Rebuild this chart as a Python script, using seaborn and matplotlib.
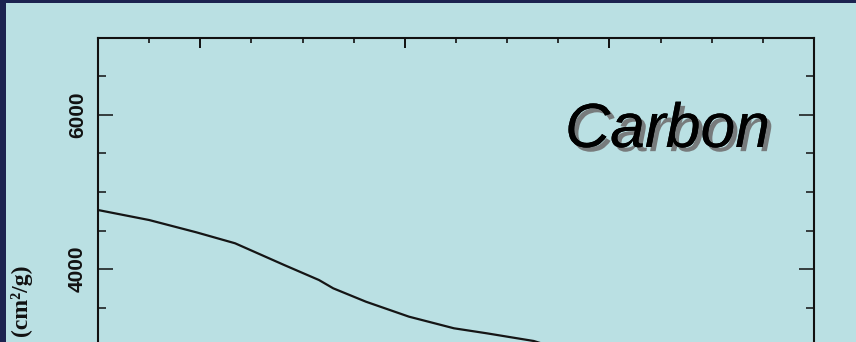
import matplotlib
matplotlib.use("Agg")
import matplotlib.pyplot as plt
import matplotlib.patheffects as pe
from matplotlib.patches import Rectangle
from matplotlib.ticker import MultipleLocator
import seaborn as sns
import pandas as pd

# Photon energy (eV) and mass absorption coefficient of carbon (cm^2/g)
energy_ev = [50, 75, 98, 117, 141, 158, 165, 181, 202, 224, 240, 263, 272]
mass_abs = [4766, 4636, 4477, 4334, 4052, 3857, 3749, 3575, 3381, 3230, 3165, 3065, 2990]

y_tick_labels = ["4000", "6000"]
element_name = "Carbon"
y_axis_label = "(cm²/g)"

df = pd.DataFrame({"energy": energy_ev, "mu": mass_abs})

sns.set_style("ticks")
plt.rcParams["font.family"] = ["Liberation Sans", "DejaVu Sans"]

W, H, DPI = 856, 342, 100
fig = plt.figure(figsize=(W / DPI, H / DPI), dpi=DPI)
fig.patch.set_facecolor("#1c2350")

panel_color = "#bae0e3"
fig.patches.append(Rectangle((6 / W, 0), 1, 1 - 3 / H, transform=fig.transFigure,
                             facecolor=panel_color, edgecolor="none", zorder=-10))

# axes box: left 98 px, right 814 px, top 38 px; the lower edge sits just below the page
ymin, ymax = 2950, 7000
px_per_unit = 77 / 1000
left, right, top = 98, 814, 38
ax_h_px = (ymax - ymin) * px_per_unit
ax = fig.add_axes([left / W, 1 - (top + ax_h_px) / H, (right - left) / W, ax_h_px / H])
ax.set_facecolor(panel_color)
ax.set_zorder(1)

sns.lineplot(data=df, x="energy", y="mu", ax=ax, color="#151515", linewidth=1.6)

ax.set_xlim(50, 400)
ax.set_ylim(ymin, ymax)
ax.xaxis.set_major_locator(MultipleLocator(100))
ax.xaxis.set_minor_locator(MultipleLocator(25))
ax.yaxis.set_minor_locator(MultipleLocator(500))
ax.set_yticks([int(v) for v in y_tick_labels])
ax.set_yticklabels(y_tick_labels)
ax.set_xlabel("")
ax.set_ylabel("")

for s in ax.spines.values():
    s.set_linewidth(1.5)
    s.set_color("#111111")

ax.tick_params(axis="x", which="both", direction="in", top=True, bottom=False,
               labelbottom=False, labeltop=False, color="#111111")
ax.tick_params(axis="x", which="major", length=7.5, width=1.4)
ax.tick_params(axis="x", which="minor", length=3.8, width=1.2)
ax.tick_params(axis="y", which="both", direction="in", left=True, right=True,
               color="#111111")
ax.tick_params(axis="y", which="major", length=11, width=1.1, pad=8,
               labelsize=15, labelrotation=90, labelcolor="#111111")
ax.tick_params(axis="y", which="minor", length=5.8, width=1.1)
for lab in ax.get_yticklabels():
    lab.set_va("center")
    lab.set_fontweight("bold")

fig.text(21 / W, 1 - 265 / H, y_axis_label, rotation=90, rotation_mode="anchor",
         ha="right", va="center", fontsize=17, fontweight="bold", color="#111111",
         family=["Liberation Serif", "DejaVu Serif"])

fig.text(565 / W, 1 - 147 / H, element_name, fontsize=45, style="italic",
         color="black", ha="left", va="baseline",
         path_effects=[pe.withSimplePatchShadow(offset=(3, -3), shadow_rgbFace="#777b7c",
                                                alpha=1.0),
                       pe.Normal()])

fig.savefig("out.png", dpi=DPI, facecolor=fig.get_facecolor())
